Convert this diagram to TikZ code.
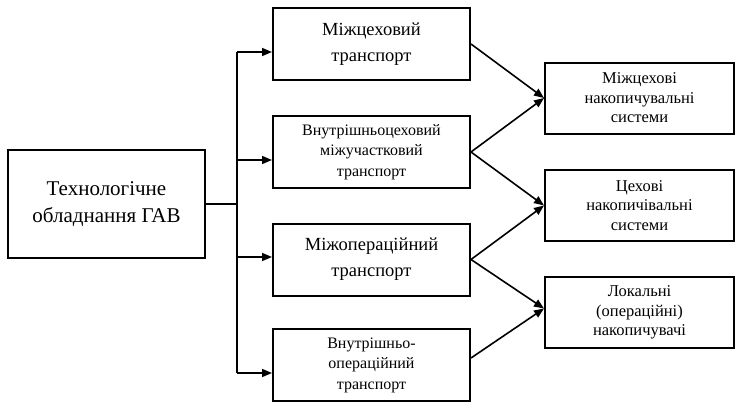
\documentclass[tikz,border=0pt]{standalone}
\usepackage{fontspec}
\setmainfont{Liberation Serif}
\usetikzlibrary{arrows.meta,positioning}

\begin{document}
\begin{tikzpicture}[
x=1pt,y=-1pt,
box/.style={rectangle,draw=black,line width=2pt,fill=white,align=center,minimum width=197pt,minimum height=72pt,inner sep=1pt},
big/.style={font=\fontsize{18.5}{26}\selectfont},
small/.style={font=\fontsize{16}{20.5}\selectfont},
store/.style={box,minimum width=189pt,minimum height=71pt,font=\fontsize{16.5}{19.5}\selectfont},
arr/.style={-{Triangle[length=10pt,width=8pt]},line width=1.6pt},
ln/.style={line width=1.6pt}
]
\useasboundingbox (0,0) rectangle (737,402);

% source equipment
\node[box,minimum height=108pt,font=\fontsize{21}{27}\selectfont] (equip) at (106.5,204) {Технологічне\\обладнання ГАВ};

% kinds of transport
\node[box,big] (t1) at (371.5,44) {Міжцеховий\\транспорт};
\node[box,small] (t2) at (371.5,152) {Внутрішньоцеховий\\міжучастковий\\транспорт};
\node[box,big] (t3) at (371.5,259.5) {Міжопераційний\\транспорт};
\node[box,small] (t4) at (371.5,365) {Внутрішньо-\\операційний\\транспорт};

% storage
\node[store] (s1) at (639.5,98) {Міжцехові\\накопичувальні\\системи};
\node[store] (s2) at (639.5,205.5) {Цехові\\накопичівальні\\системи};
\node[store] (s3) at (639.5,312.5) {Локальні\\(операційні)\\накопичувачі};

% trunk
\coordinate (fork) at (237,204);
\coordinate (j1) at (237,52);
\coordinate (j2) at (237,160);
\coordinate (j3) at (237,257);
\coordinate (j4) at (237,373);
\draw[ln] (equip.east) -- (fork);
\draw[ln] (j1) -- (j4);
\draw[arr] (j1) -- (j1 -| t1.west);
\draw[arr] (j2) -- (j2 -| t2.west);
\draw[arr] (j3) -- (j3 -| t3.west);
\draw[arr] (j4) -- (j4 -| t4.west);

% transport to storage
\draw[arr] (t1.east) -- (s1.west);
\draw[arr] (t2.east) -- (s1.west);
\draw[arr] (t2.east) -- (s2.west);
\draw[arr] (t3.east) -- (s2.west);
\draw[arr] (t3.east) -- ([yshift=4pt]s3.west);
\draw[arr] ([yshift=7pt]t4.east) -- ([yshift=4pt]s3.west);
\end{tikzpicture}
\end{document}
